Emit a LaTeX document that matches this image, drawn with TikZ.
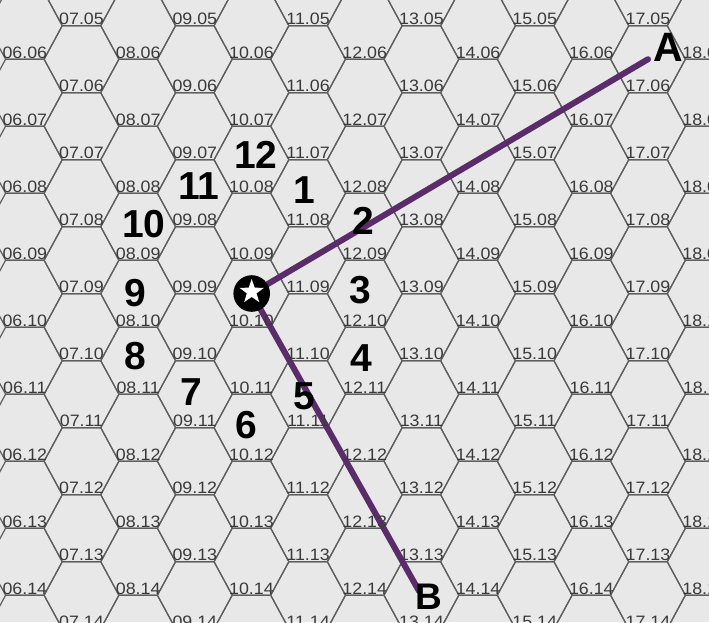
\documentclass[tikz,border=0pt]{standalone}
\usepackage{fontspec}
\setmainfont{Liberation Sans}
\newfontfamily\lblfont[FakeStretch=1.08]{Liberation Sans}
\definecolor{bgc}{HTML}{E8E8E8}
\definecolor{hexc}{HTML}{5E5E5E}
\definecolor{lblc}{HTML}{3A3A3A}
\definecolor{routec}{HTML}{5B2C6A}
\tikzset{
  hexline/.style={draw=hexc, line width=1.2pt, line join=round},
  hexlabel/.style={anchor=base, inner sep=0pt, text=lblc, font=\lblfont\fontsize{16.5}{16.5}\selectfont},
  bignum/.style={inner sep=0pt, text=black, font=\bfseries\fontsize{39}{39}\selectfont},
  route/.style={draw=routec, line width=6pt, line cap=round},
  endletter/.style={inner sep=0pt, text=black, font=\bfseries\fontsize{#1}{#1}\selectfont},
  homedisc/.style={circle, fill=black, minimum size=36.6pt, inner sep=0pt},
}
\begin{document}
\begin{tikzpicture}[x=1pt,y=-1pt]
\useasboundingbox (0,0) rectangle (709,622);
\begin{scope}
\clip (0,0) rectangle (709,622);
\fill[bgc] (0,0) rectangle (709,622);
% hex grid
\foreach \c in {6,...,18}{
  \foreach \r in {4,...,15}{
    \ifodd\c \def\base{92.7}\else\def\base{59.2}\fi
    \pgfmathsetmacro\cx{81.5+(\c-7)*56.65}
    \pgfmathsetmacro\ty{\base+(\r-6)*67}
    \draw[hexline] (\cx-19.25,\ty) -- ++(38.5,0) -- ++(18.15,33.5) -- ++(-18.15,33.5)
      -- ++(-38.5,0) -- ++(-18.15,-33.5) -- cycle;
  }
}
% route
\coordinate (home) at (251.7,293.5);
\coordinate (aEnd) at (648,59.2);
\coordinate (bEnd) at (419,591);
\draw[route] (home) -- (aEnd);
\draw[route] (home) -- (bEnd);
% hex labels (only those that reach into the picture)
\foreach \c in {6,...,18}{
  \ifodd\c \def\rfirst{5}\else\def\rfirst{6}\fi
  \foreach \r in {\rfirst,...,14}{
    \ifodd\c \def\base{92.7}\else\def\base{59.2}\fi
    \pgfmathsetmacro\cx{81.5+(\c-7)*56.65}
    \pgfmathsetmacro\ty{\base+(\r-6)*67-1}
    \node[hexlabel] (lbl-\c-\r) at (\cx,\ty) {\ifnum\c<10 0\fi\c.\ifnum\r<10 0\fi\r};
  }
}
% home marker
\node[homedisc] (star) at (home) {};
\fill[white, shift={(251.7,291.8)}] (-90:12.8) -- (-54:5.1) -- (-18:12.8) -- (18:5.1) -- (54:12.8)
  -- (90:5.1) -- (126:12.8) -- (162:5.1) -- (198:12.8) -- (234:5.1) -- cycle;
% numbers
\node[bignum] (n1) at (304,190.5) {1};
\node[bignum] (n2) at (363.5,220.5) {2};
\node[bignum] (n3) at (360,290.5) {3};
\node[bignum] (n4) at (361.7,358.3) {4};
\node[bignum] (n5) at (304,396.7) {5};
\node[bignum] (n6) at (246.7,425) {6};
\node[bignum] (n7) at (191.7,391.7) {7};
\node[bignum] (n8) at (135.5,356) {8};
\node[bignum] (n9) at (135.5,293.3) {9};
\node[bignum] (n10) at (143.7,224) {10};
\node[bignum] (n11) at (199,186) {11};
\node[bignum] (n12) at (255.7,155) {12};
% end letters
\node[endletter=41] (A) at (668.5,47) {A};
\node[endletter=37] (B) at (429,596.7) {B};
\end{scope}
\end{tikzpicture}
\end{document}
